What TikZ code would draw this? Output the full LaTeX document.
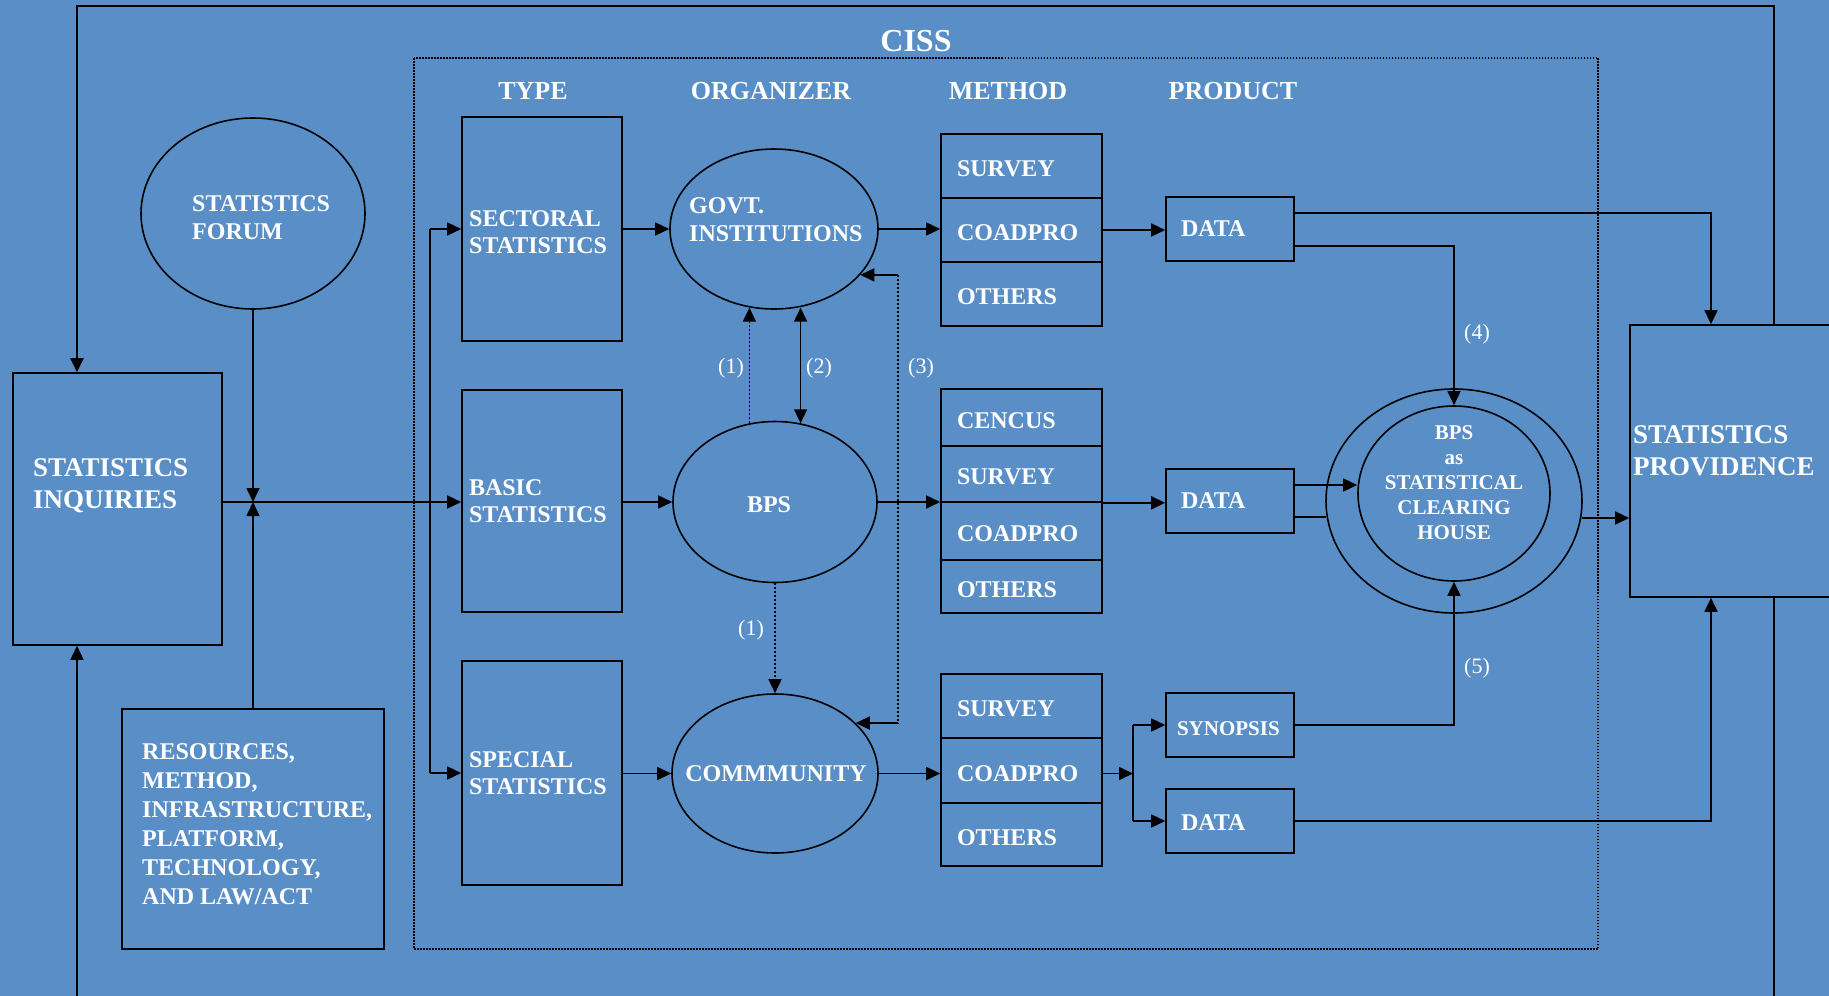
\documentclass[tikz,border=0pt]{standalone}
\usepackage{fontspec}
\setmainfont{Liberation Serif}
\usetikzlibrary{shapes.geometric,arrows.meta,calc}
\definecolor{bgblue}{RGB}{89,142,199}
\begin{document}
\begin{tikzpicture}[x=1pt,y=-1pt,
  >={Triangle[length=14pt,width=13pt]},
  every node/.style={text=white},
  ln/.style={draw=black,line width=1.6pt},
  dotln/.style={draw=black,line width=1.5pt,dash pattern=on 2pt off 2pt},
  box/.style={draw=black,line width=1.6pt,rectangle,inner sep=0pt},
  ell/.style={draw=black,line width=1.6pt,ellipse,inner sep=0pt},
  f24/.style={font=\bfseries\fontsize{24}{27}\selectfont},
  hdr/.style={font=\bfseries\fontsize{26}{30}\selectfont,inner sep=0pt},
  lab/.style={font=\fontsize{22}{26}\selectfont,inner sep=0pt},
  txt/.style={f24,align=left,inner sep=0pt},
  typ/.style={box,minimum width=160pt,text width=146pt,inner xsep=7pt,align=left,f24},
  mc/.style={box,minimum width=161pt,text width=129pt,inner xsep=16pt,align=left,f24,text height=21pt,text depth=0pt},
  pd/.style={box,minimum width=128pt,minimum height=64pt,text width=98pt,inner xsep=15pt,align=left,f24}
]
\path[use as bounding box] (0,0) rectangle (1829,996);
\clip (0,0) rectangle (1829,996);
\fill[bgblue] (0,0) rectangle (1829,996);

% container
\draw[line width=1.3pt,dash pattern=on 1.5pt off 1.5pt] (414,58) rectangle (1598,949);
\node[font=\bfseries\fontsize{32}{36}\selectfont,inner sep=0pt] (ciss) at (916,41) {CISS};
\node[hdr] (hType) at (533,91) {TYPE};
\node[hdr] (hOrg) at (771,91) {ORGANIZER};
\node[hdr] (hMeth) at (1008,91) {METHOD};
\node[hdr] (hProd) at (1233,91) {PRODUCT};

% left column
\node[box,minimum width=209pt,minimum height=272pt] (inq) at (117.5,509) {};
\node[txt,font=\bfseries\fontsize{27}{32}\selectfont,anchor=west] (inqT) at (33,486) {STATISTICS\\INQUIRIES};
\node[ell,minimum width=224pt,minimum height=191pt] (forum) at (253,213.5) {};
\node[txt,anchor=west,font=\bfseries\fontsize{24}{28}\selectfont] (forumT) at (192,218) {STATISTICS\\FORUM};
\node[box,minimum width=262pt,minimum height=240pt,text width=222pt,inner xsep=20pt,align=left,font=\bfseries\fontsize{24}{29}\selectfont] (res) at (253,829) {};
\node[txt,anchor=west,font=\bfseries\fontsize{24}{29}\selectfont] (resT) at (142,824) {RESOURCES,\\METHOD,\\INFRASTRUCTURE,\\PLATFORM,\\TECHNOLOGY,\\AND LAW/ACT};

% type
\node[typ,minimum height=224pt] (sect) at (542,229) {};
\node[txt,anchor=west] (sectT) at (469,232) {SECTORAL\\STATISTICS};
\node[typ,minimum height=222pt] (basic) at (542,501) {BASIC\\STATISTICS};
\node[typ,minimum height=224pt] (spec) at (542,773) {SPECIAL\\STATISTICS};

% organizer
\node[ell,minimum width=208pt,minimum height=160pt] (govt) at (774,229) {};
\node[txt,anchor=west,font=\bfseries\fontsize{24}{28}\selectfont] (govtT) at (689,220) {GOVT.\\INSTITUTIONS};
\node[ell,minimum width=204pt,minimum height=161pt] (bps) at (775,502) {};
\node[txt] (bpsT) at (769,505) {BPS};
\node[ell,minimum width=206pt,minimum height=159pt] (comm) at (775,773.5) {};
\node[txt] (commT) at (776,774) {COMMMUNITY};

% method
\node[mc,minimum height=64pt] (m1a) at (1021.5,166) {SURVEY};
\node[mc,minimum height=64pt] (m1b) at (1021.5,230) {COADPRO};
\node[mc,minimum height=64pt] (m1c) at (1021.5,294) {OTHERS};
\node[mc,minimum height=57pt] (m2a) at (1021.5,417.5) {CENCUS};
\node[mc,minimum height=56pt] (m2b) at (1021.5,474) {SURVEY};
\node[mc,minimum height=58pt] (m2c) at (1021.5,531) {COADPRO};
\node[mc,minimum height=53pt] (m2d) at (1021.5,586.5) {OTHERS};
\node[mc,minimum height=64pt] (m3a) at (1021.5,706) {SURVEY};
\node[mc,minimum height=65pt] (m3b) at (1021.5,770.5) {COADPRO};
\node[mc,minimum height=63pt] (m3c) at (1021.5,834.5) {OTHERS};

% product
\node[pd] (d1) at (1230,229) {DATA};
\node[pd] (d2) at (1230,501) {DATA};
\node[pd,text width=106pt,inner xsep=11pt,font=\bfseries\fontsize{21}{25}\selectfont,text height=20pt,text depth=0pt] (syn) at (1230,725) {SYNOPSIS};
\node[pd,text height=19pt,text depth=0pt] (d3) at (1230,821) {DATA};

% clearing house
\node[ell,minimum width=256pt,minimum height=224pt] (outer) at (1454,501) {};
\node[ell,minimum width=192pt,minimum height=175pt] (inner) at (1454,493.5) {};
\node[align=center,inner sep=0pt,font=\bfseries\fontsize{21}{25}\selectfont] (chT) at (1454,483) {BPS\\as\\STATISTICAL\\CLEARING\\HOUSE};

% providence
\node[box,minimum width=220pt,minimum height=272pt] (prov) at (1740,461) {};
\node[txt,anchor=west,font=\bfseries\fontsize{27}{32}\selectfont] (provT) at (1633,451) {STATISTICS\\PROVIDENCE};

% helper coordinates
\coordinate (LT) at (77,6);
\coordinate (RT) at (1774,6);
\coordinate (LB) at (77,1005);
\coordinate (RB) at (1774,1005);
\coordinate (J) at (253,502);
\coordinate (B) at (430,502);
\coordinate (X1) at (1711,0);
\coordinate (x3) at (898,0);
\coordinate (j3) at (1133,773.5);

% outer loop
\draw[ln,line width=2pt,->] (prov.north -| RT) -- (RT) -- (LT) -- (LT |- inq.north);
\draw[ln] (prov.south -| RB) -- (RB);
\draw[ln,->] (LB) -- (LB |- inq.south);

% left junction
\draw[ln,->] (forum.south) -- (J);
\draw[ln,->] (res.north) -- (J);
\draw[ln,->] (J -| inq.east) -- (J -| basic.west);
\draw[ln] (B |- sect.west) -- (B |- spec.west);
\draw[ln,->] (B |- sect.west) -- (sect.west);
\draw[ln,->] (B |- spec.west) -- (spec.west);

% type -> organizer
\draw[ln,->] (sect.east |- govt) -- (govt.west);
\draw[ln,->] (basic.east |- bps) -- (bps.west);
\draw[ln,->] (spec.east |- comm) -- (comm.west);

% organizer -> method
\draw[ln,->] (govt.east) -- (govt.east -| m1b.west);
\draw[ln,->] (bps.east) -- (bps.east -| m2b.west);
\draw[ln,->] (comm.east) -- (comm.east -| m3b.west);

% organizer links
\draw[dotln,->] (bps.108) -- (bps.108 |- govt.253);
\draw[ln,<->] (bps.72) -- (bps.72 |- govt.287);
\draw[dotln,->] (bps.south) -- (comm.north);
\draw[dotln] (govt.332 -| x3) -- (comm.32 -| x3);
\draw[ln,->] (govt.332 -| x3) -- (govt.332);
\draw[ln,->] (comm.32 -| x3) -- (comm.32);
\node[lab] (l1a) at (731,368) {(1)};
\node[lab] (l2) at (819,368) {(2)};
\node[lab] (l3) at (921,368) {(3)};
\node[lab] (l1b) at (751,630) {(1)};

% method -> product
\draw[ln,->] (m1b.east) -- (m1b.east -| d1.west);
\draw[ln,->] (m2b.south east) -- (m2b.south east -| d2.west);
\draw[ln,->] (comm.east -| m3b.east) -- (j3);
\draw[ln] (syn.west -| j3) -- (d3.west -| j3);
\draw[ln,->] (syn.west -| j3) -- (syn.west);
\draw[ln,->] (d3.west -| j3) -- (d3.west);

% product outputs
\draw[ln,->] (d1.east |- 0,213) -| (prov.north -| X1);
\draw[ln,->] (d1.east |- 0,246) -| (inner.north);
\draw[ln,->] ($(d2.east)+(0,-16)$) -- ($(inner.west)+(0,-8.5)$);
\draw[ln] ($(d2.east)+(0,16)$) -- ($(outer.west)+(1,16)$);
\coordinate (oe) at ($(outer.east)+(-1,17)$);
\draw[ln,->] (oe) -- (oe -| prov.west);
\draw[ln,->] (syn.east) -| (inner.south);
\draw[ln,->] (d3.east) -| (prov.south -| X1);
\node[lab] (l4) at (1477,334) {(4)};
\node[lab] (l5) at (1477,668) {(5)};
\end{tikzpicture}
\end{document}
